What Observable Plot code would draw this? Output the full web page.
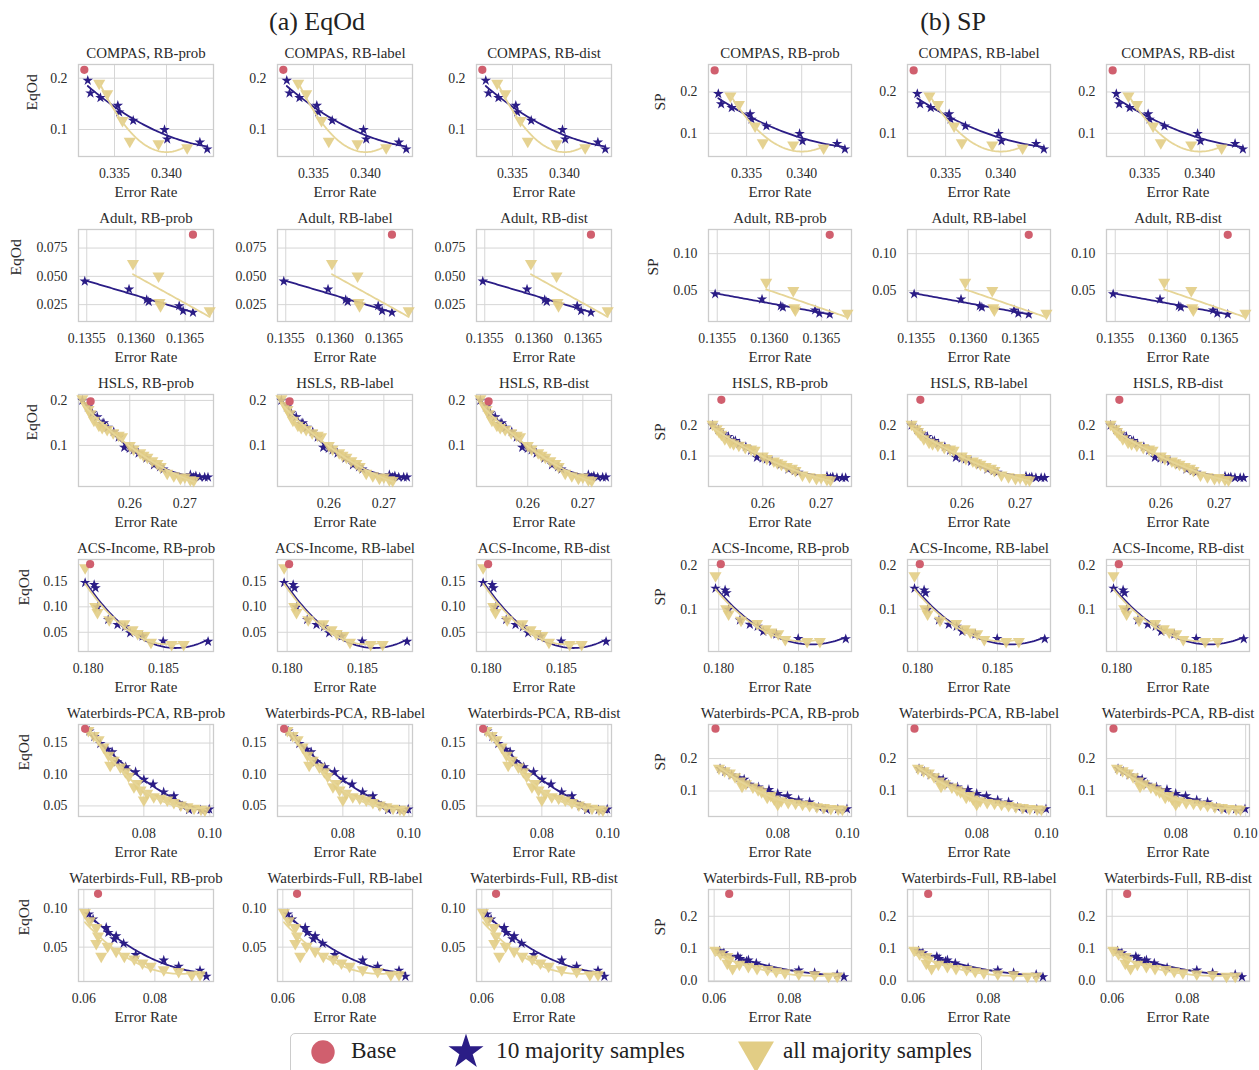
<!DOCTYPE html>
<html><head><meta charset="utf-8">
<script src="https://cdn.jsdelivr.net/npm/d3@7"></script>
<script src="https://cdn.jsdelivr.net/npm/@observablehq/plot@0.6"></script>
<style>
body{margin:0;background:#fff;}
#root{position:relative;width:1259px;height:1070px;overflow:hidden;font-family:"Liberation Serif","DejaVu Serif",serif;color:#222;background:#fff;}
.panel{position:absolute;}
.gtitle{position:absolute;top:7px;font-size:26px;transform:translateX(-50%);white-space:nowrap;color:#222;}
#legend{position:absolute;left:290px;top:1033px;width:692px;height:46px;border:1.5px solid #cccccc;border-radius:5px;background:#fff;box-sizing:border-box;}
#legend .it{position:absolute;top:3px;font-size:23.3px;color:#222;white-space:nowrap;}
#legend svg{position:absolute;top:0px;}
</style></head><body><div id="root"></div>
<script>
// ---------------- data ----------------
const datasets = ["COMPAS", "Adult", "HSLS", "ACS-Income", "Waterbirds-PCA", "Waterbirds-Full"];
const methods = ["RB-prob", "RB-label", "RB-dist"];
const metrics = ["EqOd", "SP"];
const groupTitles = ["(a) EqOd", "(b) SP"];
const legendLabels = ["Base", "10 majority samples", "all majority samples"];

// [error rate, fairness] — "10 majority samples" (stars)
const compasStars = [[0.33243,0.1955],[0.33269,0.1708],[0.33365,0.1618],[0.33532,0.1468],[0.33545,0.1337],[0.3368,0.1175],[0.33981,0.0994],[0.34007,0.0811],[0.34321,0.0752],[0.34392,0.0616]];
const adultStars = [[0.13548,0.0456],[0.13593,0.0386],[0.13611,0.0294],[0.13613,0.0276],[0.13644,0.0239],[0.13648,0.0195],[0.13658,0.0181]];
const hslsStars = [[0.2514,0.2000],[0.2524,0.1853],[0.2532,0.1720],[0.2541,0.1632],[0.2550,0.1485],[0.2553,0.150],[0.2560,0.1397],[0.2571,0.1301],[0.2580,0.118],[0.2590,0.0955],[0.2600,0.093],[0.2607,0.0897],[0.2616,0.0823],[0.2630,0.0713],[0.2644,0.0566],[0.2655,0.052],[0.2661,0.0470],[0.2710,0.0345],[0.2716,0.0293],[0.2720,0.032],[0.2727,0.0293],[0.2736,0.0293],[0.2742,0.0293]];
const acsStars = [[0.17980,0.1474],[0.18040,0.1435],[0.18049,0.1370],[0.18062,0.0993],[0.18133,0.0747],[0.18195,0.0649],[0.18244,0.0604],[0.18279,0.0487],[0.18361,0.0422],[0.18498,0.0325],[0.18796,0.0318]];
const wbpcaStars = [[0.0635,0.1689],[0.0650,0.160],[0.0668,0.1490],[0.0690,0.140],[0.0704,0.1358],[0.0719,0.1200],[0.0745,0.112],[0.0775,0.1042],[0.0800,0.092],[0.0828,0.0847],[0.0860,0.072],[0.0891,0.0658],[0.0917,0.0500],[0.0937,0.0437],[0.0972,0.0437],[0.0998,0.0447]];
const wbfullStars = [[0.0614,0.0926],[0.0626,0.0861],[0.0663,0.0752],[0.0669,0.0687],[0.0691,0.0643],[0.0686,0.0604],[0.0712,0.0548],[0.0746,0.0404],[0.0825,0.0330],[0.0867,0.0252],[0.0927,0.0200],[0.0945,0.0122]];

// "all majority samples" (triangles)
const compasTri = [[0.33353,0.1903],[0.3343,0.1696],[0.33577,0.1175],[0.33647,0.0772],[0.33923,0.0721],[0.34199,0.0643]];
const adultTri = [[0.13597,0.0613],[0.13623,0.0503],[0.13624,0.0270],[0.13625,0.0241],[0.13675,0.0197]];
const hslsTri = [[0.2514,0.2037],[0.2521,0.1890],[0.2525,0.180],[0.2529,0.1706],[0.2535,0.1559],[0.2544,0.1448],[0.2550,0.140],[0.2559,0.1353],[0.2570,0.128],[0.2580,0.1228],[0.2586,0.1191],[0.2600,0.100],[0.2607,0.0920],[0.2619,0.0838],[0.2625,0.078],[0.2632,0.0735],[0.2641,0.0661],[0.2650,0.060],[0.2656,0.0529],[0.2668,0.0382],[0.2680,0.0323],[0.2692,0.0271],[0.2700,0.030],[0.2710,0.0234],[0.2716,0.0220]];
const acsTri = [[0.17980,0.1766],[0.18047,0.1006],[0.18062,0.0890],[0.18140,0.0747],[0.18240,0.0669],[0.18295,0.0552],[0.18329,0.0474],[0.18373,0.0435],[0.18417,0.0305],[0.18554,0.0260],[0.18634,0.0260]];
const wbpcaTri = [[0.0632,0.1700],[0.0648,0.1621],[0.0663,0.1553],[0.0678,0.1437],[0.0693,0.1305],[0.0698,0.1147],[0.0709,0.1226],[0.0729,0.1121],[0.0744,0.1042],[0.0754,0.0974],[0.0770,0.0805],[0.0780,0.0858],[0.0790,0.0753],[0.0800,0.0595],[0.0810,0.0700],[0.0830,0.0647],[0.0851,0.0621],[0.0871,0.0595],[0.0891,0.0553],[0.0912,0.0516],[0.0932,0.0489],[0.0952,0.0463],[0.0973,0.0447],[0.0985,0.0437]];
const wbfullTri = [[0.0603,0.0948],[0.0617,0.0839],[0.0635,0.0752],[0.0640,0.0643],[0.0635,0.0548],[0.0649,0.0383],[0.0667,0.0513],[0.0691,0.0448],[0.0714,0.0383],[0.0742,0.0348],[0.0765,0.0296],[0.0788,0.0252],[0.0825,0.0209],[0.0867,0.0187],[0.0904,0.0144],[0.0927,0.0144]];

// Base model: [error rate, EqOd, SP]
const baseEqOdSP = [[0.3321,0.2164,0.252],[0.13658,0.0868,0.1254],[0.2529,0.1978,0.2828],[0.18013,0.1838,0.203],[0.0622,0.1726,0.292],[0.0640,0.1187,0.2694]];

// axis domains / ticks
const xDomains = [[0.33154,0.34452],[0.135416,0.136789],[0.2507,0.2752],[0.17936,0.18832],[0.0602,0.1011],[0.0585,0.0965]];
const xTicks = [[0.335,0.340],[0.1355,0.1360,0.1365],[0.26,0.27],[0.180,0.185],[0.08,0.10],[0.06,0.08]];
const xFormats = [".3f",".4f",".2f",".3f",".2f",".2f"];
const yDomainsEqOd = [[0.0474,0.2267],[0.0101,0.0914],[0.0086,0.2132],[0.0123,0.1929],[0.0332,0.1795],[0.0057,0.1243]];
const yDomainsSP = [[0.044,0.2664],[0.0085,0.1326],[0.001,0.300],[0.003,0.2136],[0.0214,0.305],[-0.002,0.283]];
const yTicksEqOd = [[0.1,0.2],[0.025,0.05,0.075],[0.1,0.2],[0.05,0.10,0.15],[0.05,0.10,0.15],[0.05,0.10]];
const yTicksSP = [[0.1,0.2],[0.05,0.10],[0.1,0.2],[0.1,0.2],[0.1,0.2],[0.0,0.1,0.2]];
const yFormatsEqOd = [".1f",".3f",".1f",".2f",".2f",".2f"];
const yFormatsSP = [".1f",".2f",".1f",".1f",".1f",".1f"];
const fitOrders = [2,1,2,2,2,2];

const starsByDs = [compasStars, adultStars, hslsStars, acsStars, wbpcaStars, wbfullStars];
const triByDs = [compasTri, adultTri, hslsTri, acsTri, wbpcaTri, wbfullTri];

// ---------------- style ----------------
const BLUE = "#2b1d86", YELLOW = "#e2cd85", YLINE = "#e6d597", PINK = "#d05f6e";
const GRID = "#d6d6d6", FRAME = "#cccccc", INK = "#2a2a2a";

// least-squares polynomial regression (as in a regplot)
function regression(pts, order) {
  const xs = pts.map(d => d[0]), ys = pts.map(d => d[1]);
  const mx = d3.mean(xs), sx = d3.deviation(xs) || 1;
  const n = order + 1;
  const A = Array.from({length: n}, () => new Array(n + 1).fill(0));
  pts.forEach(([x, y]) => {
    const t = (x - mx) / sx;
    for (let i = 0; i < n; i++) {
      for (let j = 0; j < n; j++) A[i][j] += Math.pow(t, i + j);
      A[i][n] += y * Math.pow(t, i);
    }
  });
  for (let i = 0; i < n; i++) {
    let p = i;
    for (let k = i + 1; k < n; k++) if (Math.abs(A[k][i]) > Math.abs(A[p][i])) p = k;
    [A[i], A[p]] = [A[p], A[i]];
    for (let k = i + 1; k < n; k++) {
      const f = A[k][i] / A[i][i];
      for (let j = i; j <= n; j++) A[k][j] -= f * A[i][j];
    }
  }
  const c = new Array(n).fill(0);
  for (let i = n - 1; i >= 0; i--) {
    let s = A[i][n];
    for (let j = i + 1; j < n; j++) s -= A[i][j] * c[j];
    c[i] = s / A[i][i];
  }
  const [x0, x1] = d3.extent(xs);
  return d3.range(61).map(k => {
    const x = x0 + (x1 - x0) * k / 60, t = (x - mx) / sx;
    return [x, c.reduce((s, ci, i) => s + ci * Math.pow(t, i), 0)];
  });
}

const triDown = {
  draw(ctx, size) {
    const y = Math.sqrt(size / (Math.sqrt(3) * 3));
    ctx.moveTo(0, 2 * y);
    ctx.lineTo(Math.sqrt(3) * y, -y);
    ctx.lineTo(-Math.sqrt(3) * y, -y);
    ctx.closePath();
  }
};

const root = document.getElementById("root");
const FONT = "Liberation Serif, DejaVu Serif, serif";
const frameLefts = [[78, 277, 476], [707.5, 906.5, 1105.5]];
const frameWidths = [135, 143];
const frameH = 92;
const mL = 70, mR = 25, mT = 30, mB = 50;
const yLabelDx = [[-46, -62, -46, -54, -54, -54], [-48, -55, -48, -48, -48, -48]];

groupTitles.forEach((t, g) => {
  const div = document.createElement("div");
  div.className = "gtitle";
  div.textContent = t;
  div.style.left = (g === 0 ? 317 : 953) + "px";
  root.appendChild(div);
});

datasets.forEach((ds, r) => {
  const stars = starsByDs[r], tris = triByDs[r];
  const starFit = regression(stars, fitOrders[r]);
  const triFit = regression(tris, fitOrders[r]);
  metrics.forEach((metric, g) => {
    const base = [[baseEqOdSP[r][0], baseEqOdSP[r][g + 1]]];
    const yDom = g === 0 ? yDomainsEqOd[r] : yDomainsSP[r];
    const yT = g === 0 ? yTicksEqOd[r] : yTicksSP[r];
    const yF = g === 0 ? yFormatsEqOd[r] : yFormatsSP[r];
    methods.forEach((m, c) => {
      const fw = frameWidths[g];
      const marks = [
        Plot.gridX(xTicks[r], {stroke: GRID, strokeOpacity: 1, strokeWidth: 1}),
        Plot.gridY(yT, {stroke: GRID, strokeOpacity: 1, strokeWidth: 1}),
        Plot.frame({stroke: FRAME, strokeWidth: 1.3}),
        Plot.axisX(xTicks[r], {tickSize: 0, tickPadding: 12, tickFormat: d3.format(xFormats[r]), label: null, fontSize: 13.8, fill: INK}),
        Plot.axisY(yT, {tickSize: 0, tickPadding: 11, tickFormat: d3.format(yF), label: null, fontSize: 13.8, fill: INK}),
        Plot.text([`${ds}, ${m}`], {text: d => d, frameAnchor: "top", dy: -17, fontSize: 14.9, fill: INK}),
        Plot.text(["Error Rate"], {text: d => d, frameAnchor: "bottom", dy: 40, fontSize: 15, fill: INK}),
        Plot.dot(stars, {x: d => d[0], y: d => d[1], symbol: "star", r: 3.3, fill: BLUE, stroke: "none"}),
        Plot.line(starFit, {x: d => d[0], y: d => d[1], stroke: BLUE, strokeWidth: 1.8}),
        Plot.dot(tris, {x: d => d[0], y: d => d[1], symbol: triDown, r: 4.5, fill: YELLOW, fillOpacity: 0.9, stroke: "none"}),
        Plot.line(triFit, {x: d => d[0], y: d => d[1], stroke: YLINE, strokeWidth: 1.8}),
        Plot.dot(base, {x: d => d[0], y: d => d[1], r: 4.1, fill: PINK, stroke: "none"})
      ];
      if (c === 0) {
        marks.push(Plot.text([metric], {text: d => d, frameAnchor: "left", dx: yLabelDx[g][r], rotate: -90, fontSize: 15.5, fill: INK}));
      }
      const svg = Plot.plot({
        width: fw + mL + mR,
        height: frameH + mT + mB,
        marginLeft: mL, marginRight: mR, marginTop: mT, marginBottom: mB,
        x: {domain: xDomains[r]},
        y: {domain: yDom},
        style: {background: "transparent", overflow: "visible", fontFamily: FONT, fontSize: "13.8px", color: INK},
        marks
      });
      svg.classList.add("panel");
      svg.style.position = "absolute";
      svg.style.left = (frameLefts[g][c] - mL) + "px";
      svg.style.top = (64 + 165 * r - mT) + "px";
      svg.style.maxWidth = "none";
      root.appendChild(svg);
    });
  });
});

// legend
const leg = document.createElement("div");
leg.id = "legend";
root.appendChild(leg);
const legendSymbols = [d3.symbolCircle, d3.symbolStar, triDown];
const legendColors = [PINK, BLUE, YELLOW];
const legendSizes = [430, 380, 560];
const symX = [32, 175, 465];
const txtX = [60, 205, 492];
legendLabels.forEach((lab, i) => {
  const s = d3.select(leg).append("svg").attr("width", 40).attr("height", 40)
    .style("left", (symX[i] - 20) + "px");
  s.append("path").attr("transform", "translate(20,18)")
    .attr("d", d3.symbol(legendSymbols[i], legendSizes[i])()).attr("fill", legendColors[i]);
  d3.select(leg).append("div").attr("class", "it").style("left", txtX[i] + "px").text(lab);
});
</script>
</body></html>
